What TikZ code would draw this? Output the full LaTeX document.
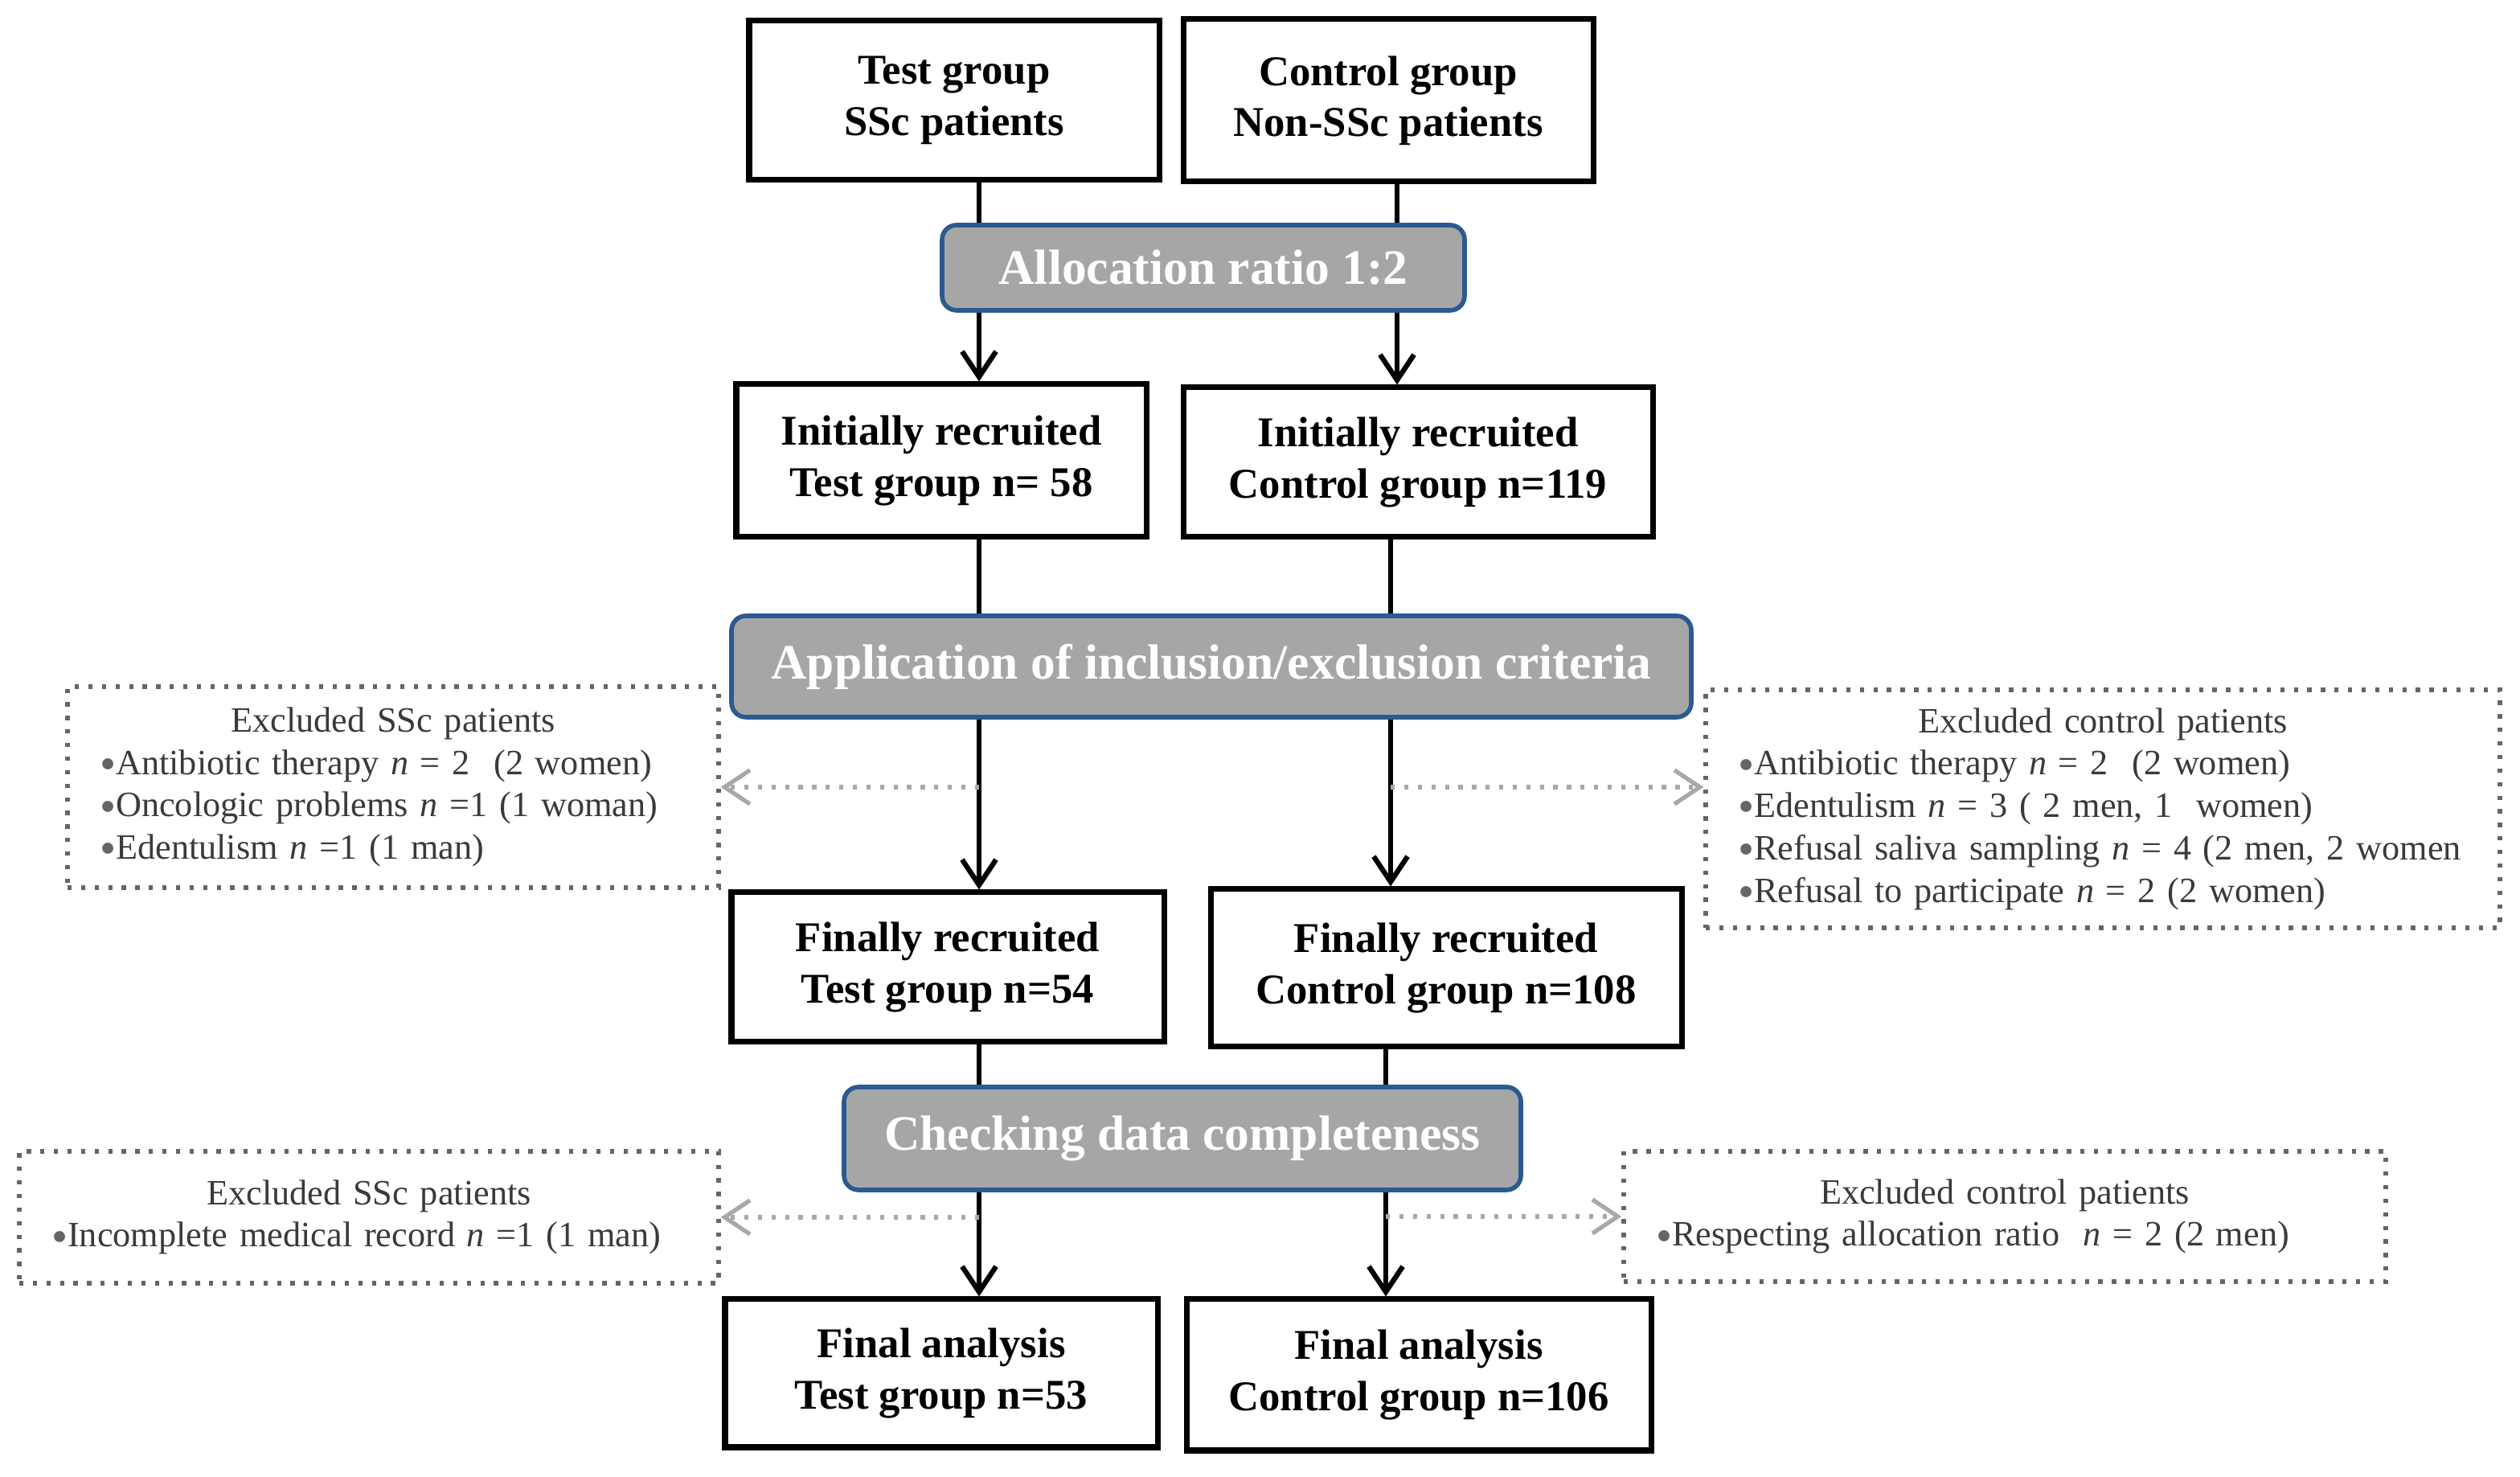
\documentclass[tikz,border=0pt]{standalone}
\usepackage{fontspec}
\setmainfont{Liberation Serif}
\usetikzlibrary{positioning, arrows.meta}
\definecolor{boxgray}{HTML}{A6A6A6}
\definecolor{boxblue}{HTML}{2A5A8F}
\definecolor{dotgray}{HTML}{656565}
\definecolor{arrgray}{HTML}{A8A8A8}
\definecolor{txtgray}{HTML}{3A3A3A}
\newcommand{\bul}{{\color{dotgray}\raisebox{-0.3ex}[0.9ex][0pt]{\scalebox{1.3}{\textbullet}}}}

\begin{document}
\begin{tikzpicture}[>={Straight Barb[length=9pt, width=12pt]}, line width=1.8pt,
    box/.style={draw, line width=2pt, align=center, inner sep=0pt, font=\fontsize{15}{18}\selectfont\bfseries},
    stage/.style={draw=boxblue, fill=boxgray, rounded corners=0.18cm, line width=1.6pt, text=white, inner sep=0pt, font=\fontsize{17.5}{20}\selectfont\bfseries},
    excl/.style={draw=dotgray, line width=1.5pt, dash pattern=on 1.5pt off 3.3pt, text=txtgray, inner sep=0pt, font=\fontsize{12.6}{15}\selectfont},
    side/.style={->, draw=arrgray, line width=1.5pt, dash pattern=on 1.5pt off 3.3pt}]
    \useasboundingbox (0,0) rectangle (31.35,18.37);
    \coordinate (L) at (12.18,0);
    \coordinate (R) at (17.38,0);
    \coordinate (M) at (17.30,0);
    \coordinate (B) at (17.24,0);
    \node[box, minimum width=5.1cm, minimum height=1.98cm] (T0) at (11.87,17.12) {Test group\\SSc patients};
    \node[box, minimum width=5.1cm, minimum height=2.02cm] (C0) at (17.27,17.12) {Control group\\Non-SSc patients};
    \node[stage, minimum width=6.5cm, minimum height=1.06cm] (A) at (14.97,15.04) {Allocation ratio 1:2};
    \node[box, minimum width=5.1cm, minimum height=1.9cm] (T1) at (11.71,12.64) {Initially recruited\\Test group n= 58};
    \node[box, minimum width=5.84cm, minimum height=1.86cm] (C1) at (17.64,12.62) {Initially recruited\\Control group n=119};
    \node[stage, minimum width=11.94cm, minimum height=1.26cm] (I) at (15.07,10.08) {Application of inclusion/exclusion criteria};
    \node[excl, minimum width=8.1cm, minimum height=2.5cm, text width=7.3cm] (ET) at (4.89,8.58) {\centerline{Excluded SSc patients}
        \mbox{\bul Antibiotic therapy \textit{n} =\ 2\ \ (2 women)}\\
        \mbox{\bul Oncologic problems \textit{n} =1 (1 woman)}\\
        \mbox{\bul Edentulism \textit{n} =1 (1 man)}};
    \node[excl, minimum width=9.88cm, minimum height=2.96cm, text width=9.08cm] (EC) at (26.16,8.31) {\centerline{Excluded control patients}
        \mbox{\bul Antibiotic therapy \textit{n} = 2\ \ (2 women)}\\
        \mbox{\bul Edentulism \textit{n} = 3 ( 2 men, 1\ \ women)}\\
        \mbox{\bul Refusal saliva sampling \textit{n} = 4 (2 men, 2 women}\\
        \mbox{\bul Refusal to participate \textit{n} = 2 (2 women)}};
    \node[box, minimum width=5.38cm, minimum height=1.86cm] (T2) at (11.79,6.34) {Finally recruited\\Test group n=54};
    \node[box, minimum width=5.86cm, minimum height=1.96cm] (C2) at (17.99,6.33) {Finally recruited\\Control group n=108};
    \node[stage, minimum width=8.42cm, minimum height=1.28cm] (D) at (14.71,4.21) {Checking data completeness};
    \node[excl, minimum width=8.7cm, minimum height=1.64cm, text width=7.9cm] (ET2) at (4.59,3.23) {\centerline{Excluded SSc patients}
        \mbox{\bul Incomplete medical record \textit{n} =1 (1 man)}};
    \node[excl, minimum width=9.48cm, minimum height=1.62cm, text width=8.68cm] (EC2) at (24.94,3.24) {\centerline{Excluded control patients}
        \mbox{\bul Respecting allocation ratio\ \ \textit{n} = 2 (2 men)}};
    \node[box, minimum width=5.38cm, minimum height=1.84cm] (T3) at (11.71,1.29) {Final analysis\\Test group n=53};
    \node[box, minimum width=5.78cm, minimum height=1.88cm] (C3) at (17.65,1.27) {Final analysis\\Control group n=106};
    \draw (L |- T0.south) -- (L |- A.north);
    \draw (R |- C0.south) -- (R |- A.north);
    \draw[->] (L |- A.south) -- (L |- T1.north);
    \draw[->] (R |- A.south) -- (R |- C1.north);
    \draw (L |- T1.south) -- (L |- I.north);
    \draw (M |- C1.south) -- (M |- I.north);
    \draw[->] (L |- I.south) -- (L |- T2.north);
    \draw[->] (M |- I.south) -- (M |- C2.north);
    \draw[side] (L |- ET.east) -- (ET.east);
    \draw[side] (M |- ET.east) -- (EC.west |- ET.east);
    \draw (L |- T2.south) -- (L |- D.north);
    \draw (B |- C2.south) -- (B |- D.north);
    \draw[->] (L |- D.south) -- (L |- T3.north);
    \draw[->] (B |- D.south) -- (B |- C3.north);
    \draw[side] (L |- ET2.east) -- (ET2.east);
    \draw[side] (B |- EC2.west) -- (EC2.west);
\end{tikzpicture}
\end{document}
